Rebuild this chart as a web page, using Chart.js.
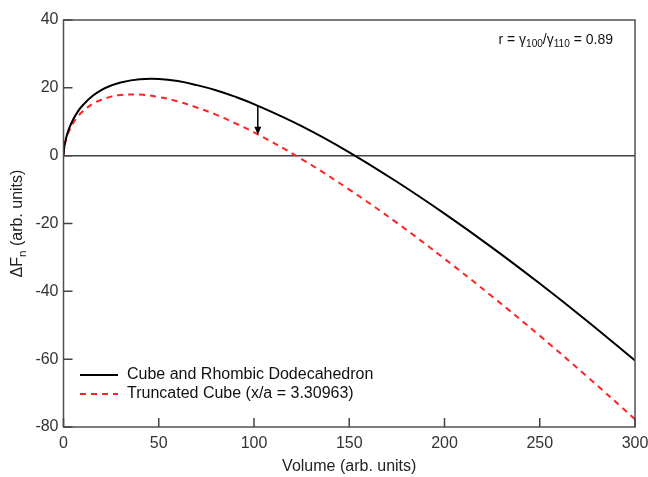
<!DOCTYPE html>
<html>
<head>
<meta charset="utf-8">
<script src="https://cdn.jsdelivr.net/npm/chart.js@4.4.1/dist/chart.umd.min.js"></script>
<style>
  html, body { margin: 0; padding: 0; background: #fff; }
  #wrap { width: 648px; height: 477px; }
</style>
</head>
<body>
<div id="wrap"><canvas id="chart" width="648" height="477"></canvas></div>
<script>
// values
const volume = [0, 0.5, 1, 2, 3, 5, 7.5, 10, 15, 20, 25, 30, 40, 50, 60, 70, 80, 90, 100, 125, 150, 175, 200, 225, 250, 275, 300];
const cubeRhombic = [0, 2.9, 4.3, 6.5, 8.1, 10.6, 13.0, 14.8, 17.5, 19.4, 20.7, 21.6, 22.5, 22.6, 22.0, 20.8, 19.3, 17.4, 15.2, 8.7, 1.0, -7.7, -17.1, -27.1, -37.7, -48.8, -60.4];
const truncatedCube = [0, 2.6, 4.0, 5.9, 7.3, 9.5, 11.5, 13.0, 15.2, 16.5, 17.4, 17.9, 18.0, 17.3, 16.0, 14.2, 12.1, 9.6, 6.9, -1.0, -10.0, -19.8, -30.4, -41.5, -53.1, -65.2, -77.7];
const xTicks = [0, 50, 100, 150, 200, 250, 300];
const yTicks = [-80, -60, -40, -20, 0, 20, 40];
const arrowX = 102;
const arrowFrom = 14.8;
const arrowTo = 6.2;

const seriesNames = ["Cube and Rhombic Dodecahedron", "Truncated Cube (x/a = 3.30963)"];

const FONT = "Liberation Sans, Arial, sans-serif";
const AXIS = "#505050";
const TXT = "#333333";

function points(xs, ys) {
    return xs.map((x, i) => ({ x: x, y: ys[i] }));
}

// draws text pieces with subscripts, returns width
function drawRich(ctx, parts, x, y, size) {
    let cx = x;
    parts.forEach(p => {
        const s = p.sub ? size * 0.72 : size;
        ctx.font = `${s}px ${FONT}`;
        ctx.fillText(p.t, cx, y + (p.sub ? size * 0.28 : 0));
        cx += ctx.measureText(p.t).width;
    });
    return cx - x;
}
function richWidth(ctx, parts, size) {
    let w = 0;
    parts.forEach(p => {
        ctx.font = `${p.sub ? size * 0.72 : size}px ${FONT}`;
        w += ctx.measureText(p.t).width;
    });
    return w;
}

const framePlugin = {
    id: "frame",
    beforeDatasetsDraw(chart) {
        const { ctx, chartArea: a, scales } = chart;
        ctx.save();
        ctx.strokeStyle = "#444";
        ctx.lineWidth = 1.5;
        const y0 = scales.y.getPixelForValue(0);
        ctx.beginPath();
        ctx.moveTo(a.left, y0);
        ctx.lineTo(a.right, y0);
        ctx.stroke();
        ctx.restore();
    },
    afterDatasetsDraw(chart) {
        const { ctx, chartArea: a, scales } = chart;
        ctx.save();
        ctx.strokeStyle = AXIS;
        ctx.lineWidth = 1.5;
        ctx.strokeRect(a.left, a.top, a.right - a.left, a.bottom - a.top);

        // inward ticks
        ctx.lineWidth = 1.5;
        ctx.strokeStyle = "#444";
        ctx.beginPath();
        xTicks.forEach(v => {
            const px = scales.x.getPixelForValue(v);
            ctx.moveTo(px, a.bottom);
            ctx.lineTo(px, a.bottom - 9);
        });
        yTicks.forEach(v => {
            const py = scales.y.getPixelForValue(v);
            ctx.moveTo(a.left, py);
            ctx.lineTo(a.left + 9, py);
        });
        ctx.stroke();

        // arrow between the curves
        const ax = scales.x.getPixelForValue(arrowX);
        const ay1 = scales.y.getPixelForValue(arrowFrom);
        const ay2 = scales.y.getPixelForValue(arrowTo);
        ctx.strokeStyle = "#000";
        ctx.fillStyle = "#000";
        ctx.lineWidth = 1.5;
        ctx.beginPath();
        ctx.moveTo(ax, ay1);
        ctx.lineTo(ax, ay2 - 5);
        ctx.stroke();
        ctx.beginPath();
        ctx.moveTo(ax, ay2);
        ctx.lineTo(ax - 3.5, ay2 - 8);
        ctx.lineTo(ax + 3.5, ay2 - 8);
        ctx.closePath();
        ctx.fill();

        // annotation top right
        ctx.fillStyle = "#111";
        ctx.textBaseline = "middle";
        ctx.textAlign = "left";
        const ann = [
            { t: "r = " }, { t: "\u03b3" }, { t: "100", sub: true }, { t: "/\u03b3" },
            { t: "110", sub: true }, { t: " = 0.89" }
        ];
        const w = richWidth(ctx, ann, 14);
        drawRich(ctx, ann, 613 - w, 40, 14);

        // legend inside plot
        const legY = [375, 394];
        ctx.lineWidth = 2;
        ctx.beginPath();
        ctx.strokeStyle = "#000";
        ctx.moveTo(80, legY[0]);
        ctx.lineTo(118, legY[0]);
        ctx.stroke();
        ctx.beginPath();
        ctx.strokeStyle = "#ff2222";
        ctx.setLineDash([6, 5]);
        ctx.moveTo(80, legY[1]);
        ctx.lineTo(118, legY[1]);
        ctx.stroke();
        ctx.setLineDash([]);
        ctx.fillStyle = "#111";
        ctx.font = `16px ${FONT}`;
        seriesNames.forEach((n, i) => ctx.fillText(n, 127, legY[i]));

        // axis titles
        ctx.fillStyle = "#222";
        ctx.textAlign = "center";
        ctx.font = `16px ${FONT}`;
        ctx.fillText("Volume (arb. units)", (a.left + a.right) / 2, 467);

        ctx.translate(18, (a.top + a.bottom) / 2);
        ctx.rotate(-Math.PI / 2);
        const yt = [{ t: "\u0394F" }, { t: "n", sub: true }, { t: " (arb. units)" }];
        const yw = richWidth(ctx, yt, 16);
        ctx.textAlign = "left";
        drawRich(ctx, yt, -yw / 2, 0, 16);
        ctx.restore();
    }
};

const ctx = document.getElementById("chart").getContext("2d");
new Chart(ctx, {
    type: "line",
    data: {
        datasets: [
            {
                label: seriesNames[0],
                data: points(volume, cubeRhombic),
                borderColor: "#000",
                borderWidth: 2,
                pointRadius: 0,
                tension: 0.4
            },
            {
                label: seriesNames[1],
                data: points(volume, truncatedCube),
                borderColor: "#ff2222",
                borderWidth: 2,
                borderDash: [6, 5],
                pointRadius: 0,
                tension: 0.4
            }
        ]
    },
    options: {
        responsive: false,
        animation: false,
        events: [],
        layout: { padding: { top: 20, right: 13, left: 0, bottom: 0 } },
        plugins: { legend: { display: false }, tooltip: { enabled: false } },
        scales: {
            x: {
                type: "linear",
                min: 0,
                max: 300,
                afterFit(s) { s.height = 50; s.paddingRight = 0; s.paddingLeft = 0; },
                afterBuildTicks(s) { s.ticks = xTicks.map(v => ({ value: v })); },
                grid: { display: false, drawTicks: false },
                border: { display: false },
                ticks: { color: TXT, font: { family: FONT, size: 16 }, padding: 7, maxRotation: 0 }
            },
            y: {
                min: -80,
                max: 40,
                afterFit(s) { s.width = 63.5; },
                afterBuildTicks(s) { s.ticks = yTicks.map(v => ({ value: v })); },
                grid: { display: false, drawTicks: false },
                border: { display: false },
                ticks: { color: TXT, font: { family: FONT, size: 16 }, padding: 5 }
            }
        }
    },
    plugins: [framePlugin]
});
</script>
</body>
</html>
